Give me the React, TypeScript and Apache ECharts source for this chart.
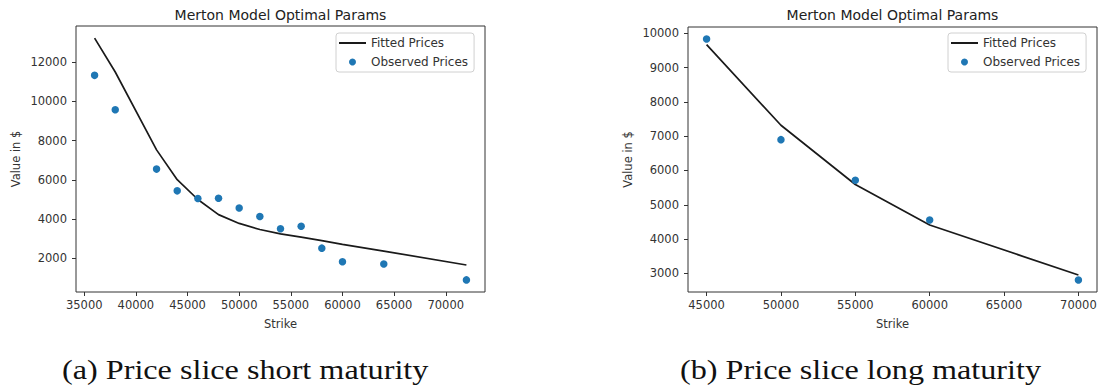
import React, { useEffect, useRef } from "react";
import * as echarts from "echarts";

// ---- Data ----
const shortStrikes = [36000, 38000, 42000, 44000, 46000, 48000, 50000, 52000, 54000, 56000, 58000, 60000, 64000, 72000];
const shortObserved = [11330, 9580, 6550, 5440, 5050, 5060, 4570, 4130, 3510, 3640, 2520, 1830, 1710, 900];
const shortFitted = [13230, 11500, 7530, 6010, 5000, 4230, 3780, 3470, 3250, 3080, 2900, 2710, 2370, 1660];

const longStrikes = [45000, 50000, 55000, 60000, 70000];
const longObserved = [9835, 6900, 5717, 4557, 2806];
const longFitted = [9670, 7320, 5590, 4410, 2950];

const shortXTicks = [35000, 40000, 45000, 50000, 55000, 60000, 65000, 70000];
const shortYTicks = [2000, 4000, 6000, 8000, 10000, 12000];
const longXTicks = [45000, 50000, 55000, 60000, 65000, 70000];
const longYTicks = [3000, 4000, 5000, 6000, 7000, 8000, 9000, 10000];

const titleText = "Merton Model Optimal Params";
const fittedName = "Fitted Prices";
const observedName = "Observed Prices";
const xName = "Strike";
const yName = "Value in $";
const captionA = "(a) Price slice short maturity";
const captionB = "(b) Price slice long maturity";

// matplotlib-like 5% margins
function pad(vals: number[]): [number, number] {
  const lo = Math.min(...vals);
  const hi = Math.max(...vals);
  const m = (hi - lo) * 0.05;
  return [lo - m, hi + m];
}

const FONT = '"DejaVu Sans", sans-serif';
const TXT = "#333";
const BLUE = "#1f77b4";
const LINE = "#1a1a1a";
const plain = (v: number) => String(Math.round(v));

function xAxisFor(gridIndex: number, strikes: number[], ticks: number[]) {
  const [mn, mx] = pad(strikes);
  return {
    type: "value",
    gridIndex,
    min: mn,
    max: mx,
    name: xName,
    nameLocation: "middle",
    nameGap: 26,
    nameTextStyle: { fontFamily: FONT, fontSize: 11.5, color: TXT },
    axisLine: { show: false },
    axisTick: { show: true, length: 4, inside: false, customValues: ticks, lineStyle: { color: TXT, width: 1 } },
    axisLabel: { show: true, customValues: ticks, formatter: plain, margin: 7, fontFamily: FONT, fontSize: 11.5, color: TXT },
    splitLine: { show: false },
  };
}

function yAxisFor(gridIndex: number, vals: number[], ticks: number[]) {
  const [mn, mx] = pad(vals);
  return {
    type: "value",
    gridIndex,
    min: mn,
    max: mx,
    name: yName,
    nameLocation: "middle",
    nameRotate: 90,
    nameGap: 54,
    nameTextStyle: { fontFamily: FONT, fontSize: 11.5, color: TXT },
    axisLine: { show: false },
    axisTick: { show: true, length: 4, inside: false, customValues: ticks, lineStyle: { color: TXT, width: 1 } },
    axisLabel: { show: true, customValues: ticks, formatter: plain, margin: 9, fontFamily: FONT, fontSize: 11.5, color: TXT },
    splitLine: { show: false },
  };
}

function legendFor(left: number) {
  return {
    left,
    top: 33,
    orient: "vertical",
    backgroundColor: "#fff",
    borderColor: "#d0d0d0",
    borderWidth: 1,
    borderRadius: 3,
    padding: [4, 6, 4, 3],
    itemWidth: 27,
    itemHeight: 7,
    itemGap: 7,
    textStyle: { fontFamily: FONT, fontSize: 12, color: TXT },
    data: [
      { name: fittedName, icon: "path://M0,0 L27,0 L27,2 L0,2 Z" },
      { name: observedName, icon: "circle" },
    ],
  };
}

export default function App() {
  const ref = useRef<HTMLDivElement>(null);

  useEffect(() => {
    if (!ref.current) return;
    const chart = echarts.init(ref.current, undefined, { renderer: "svg" });

    const option = {
      animation: false,
      backgroundColor: "#ffffff",
      grid: [
        { left: 76, top: 26, width: 409, height: 266, show: true, borderColor: "#333", borderWidth: 1, backgroundColor: "transparent" },
        { left: 688, top: 27, width: 409, height: 265, show: true, borderColor: "#333", borderWidth: 1, backgroundColor: "transparent" },
      ],
      xAxis: [xAxisFor(0, shortStrikes, shortXTicks), xAxisFor(1, longStrikes, longXTicks)],
      yAxis: [
        yAxisFor(0, shortObserved.concat(shortFitted), shortYTicks),
        yAxisFor(1, longObserved.concat(longFitted), longYTicks),
      ],
      legend: [legendFor(336), legendFor(948)],
      series: [
        {
          name: fittedName,
          type: "line",
          xAxisIndex: 0,
          yAxisIndex: 0,
          data: shortStrikes.map((s, i) => [s, shortFitted[i]]),
          showSymbol: false,
          symbol: "none",
          lineStyle: { color: LINE, width: 1.7 },
          itemStyle: { color: LINE },
          z: 2,
        },
        {
          name: observedName,
          type: "scatter",
          xAxisIndex: 0,
          yAxisIndex: 0,
          data: shortStrikes.map((s, i) => [s, shortObserved[i]]),
          symbolSize: 7.5,
          itemStyle: { color: BLUE, opacity: 1 },
          z: 3,
        },
        {
          name: fittedName,
          type: "line",
          xAxisIndex: 1,
          yAxisIndex: 1,
          data: longStrikes.map((s, i) => [s, longFitted[i]]),
          showSymbol: false,
          symbol: "none",
          lineStyle: { color: LINE, width: 1.7 },
          itemStyle: { color: LINE },
          z: 2,
        },
        {
          name: observedName,
          type: "scatter",
          xAxisIndex: 1,
          yAxisIndex: 1,
          data: longStrikes.map((s, i) => [s, longObserved[i]]),
          symbolSize: 7.5,
          itemStyle: { color: BLUE, opacity: 1 },
          z: 3,
        },
      ],
      graphic: [
        {
          type: "text",
          x: 280.5,
          y: 14.5,
          style: { text: titleText, font: `14px ${FONT}`, fill: "#222", align: "center", verticalAlign: "middle" },
        },
        {
          type: "text",
          x: 892.5,
          y: 14.5,
          style: { text: titleText, font: `14px ${FONT}`, fill: "#222", align: "center", verticalAlign: "middle" },
        },
        {
          type: "text",
          x: 62,
          y: 370,
          scaleX: 1.15,
          style: { text: captionA, font: '28px "Liberation Serif", serif', fill: "#111", align: "left", verticalAlign: "middle" },
        },
        {
          type: "text",
          x: 680,
          y: 370,
          scaleX: 1.15,
          style: { text: captionB, font: '28px "Liberation Serif", serif', fill: "#111", align: "left", verticalAlign: "middle" },
        },
      ],
    };

    chart.setOption(option as any);
    return () => {
      chart.dispose();
    };
  }, []);

  return (
    <div
      ref={ref}
      style={{ position: "absolute", left: 0, top: 0, width: 1102, height: 390, background: "#fff" }}
    />
  );
}
